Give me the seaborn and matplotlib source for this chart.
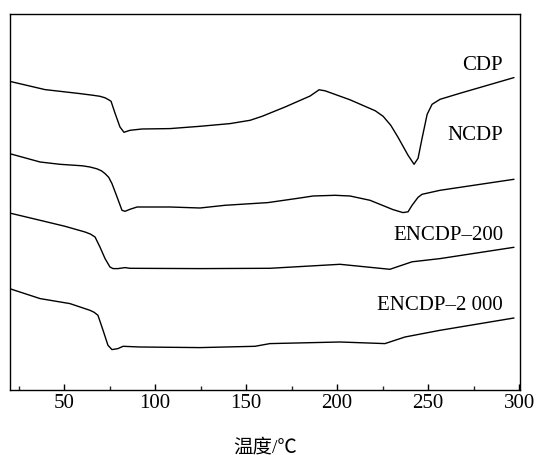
import matplotlib
matplotlib.use("Agg")
import matplotlib.pyplot as plt
from matplotlib.ticker import MultipleLocator
import seaborn as sns
import pandas as pd

# ---- data (temperature in °C, heat flow in arbitrary units) ----
cdp_t = [20, 39.5, 58.7, 66.0, 69.7, 72.5, 74.5, 75.8, 78.0, 80.7, 82.9, 86.2, 92.8, 108.2, 124.7,
         141.2, 152.2, 158.8, 171.4, 185.2, 190.1, 193.4, 207.1, 221.0, 225.3, 229.5, 233.5, 239.0,
         242.3, 244.5, 246.7, 249.5, 252.2, 256.6, 267.5, 297.2]
cdp_hf = [30.9, 30.07, 29.67, 29.5, 29.4, 29.25, 29.05, 28.9, 27.7, 26.33, 25.8, 26.0, 26.13, 26.17, 26.4,
          26.67, 27.0, 27.4, 28.33, 29.43, 30.05, 29.95, 29.05, 27.95, 27.4, 26.5, 25.3, 23.5,
          22.6, 23.2, 25.2, 27.6, 28.6, 29.1, 29.7, 31.27]

ncdp_t = [20, 36.8, 47.7, 60.0, 64.2, 68.0, 70.5, 72.5, 74.5, 76.3, 79.1, 81.8, 83.5, 86.2, 90.1, 93.4, 108.2,
          124.7, 138.4, 162.0, 179.6, 186.8, 198.9, 207.1, 218.1, 230.7, 236.2, 239.0,
          241.2, 244.5, 246.7, 256.6, 297.2]
ncdp_hf = [23.67, 22.83, 22.6, 22.45, 22.33, 22.15, 21.95, 21.67, 21.3, 20.67, 19.33, 18.0, 17.9, 18.1, 18.33, 18.33, 18.33,
           18.23, 18.5, 18.77, 19.23, 19.43, 19.5, 19.43, 19.0, 18.07, 17.77, 17.85,
           18.5, 19.3, 19.6, 20.0, 21.1]

e200_t = [20, 36.8, 50.5, 61.5, 64.5, 67.0, 69.7, 72.5, 75.2, 76.9, 79.6, 83.5, 86.2, 124.7,
          163.1, 201.6, 229.0, 241.2, 256.6, 297.2]
e200_hf = [17.73, 17.0, 16.4, 15.83, 15.62, 15.33, 14.33, 13.17, 12.33, 12.17, 12.17, 12.27, 12.2, 12.17,
           12.2, 12.6, 12.1, 12.85, 13.17, 14.3]

e2000_t = [20, 36.8, 53.2, 64.2, 66.5, 68.6, 71.4, 74.1, 76.3, 79.6, 82.4, 91.7, 124.7, 154.9,
           163.1, 201.6, 226.3, 237.3, 256.6, 297.2]
e2000_hf = [10.17, 9.17, 8.67, 8.0, 7.8, 7.5, 6.0, 4.5, 4.07, 4.17, 4.4, 4.33, 4.27, 4.4,
            4.67, 4.83, 4.67, 5.33, 6.0, 7.23]

samples = ["CDP", "NCDP", "ENCDP–200", "ENCDP–2 000"]
label_hf = [32.5, 25.5, 15.5, 8.5]
label_t = 291.3
x_ticks = [50, 100, 150, 200, 250, 300]

# ---- build long table ----
frames = []
for name, t, hf in zip(samples, [cdp_t, ncdp_t, e200_t, e2000_t],
                       [cdp_hf, ncdp_hf, e200_hf, e2000_hf]):
    frames.append(pd.DataFrame({"T": t, "hf": hf, "sample": name}))
df = pd.concat(frames, ignore_index=True)

sns.set_theme(style="white")
plt.rcParams["font.family"] = ["Liberation Serif", "Noto Sans CJK SC", "DejaVu Sans"]

fig = plt.figure(figsize=(5.37, 4.55), dpi=100)
ax = fig.add_axes([0.0177, 0.1422, 0.9506, 0.8277])

sns.lineplot(data=df, x="T", y="hf", hue="sample", palette=["black"] * 4,
             sort=False, estimator=None, legend=False, linewidth=1.0, ax=ax)

for name, y in zip(samples, label_hf):
    ax.text(label_t, y, name, ha="right", va="center", fontsize=15,
            family=["Liberation Serif", "Noto Sans CJK SC"], color="black")

ax.set_xlim(20, 300.5)
ax.set_ylim(0, 37.66)
ax.set_xticks(x_ticks)
ax.set_xticklabels([str(v) for v in x_ticks])
ax.xaxis.set_minor_locator(MultipleLocator(25))
ax.set_yticks([])
ax.set_ylabel("")
ax.tick_params(axis="x", which="major", direction="in", length=4.5, width=1.0,
               bottom=True, top=False, labelsize=15, pad=2.5, colors="black")
ax.tick_params(axis="x", which="minor", direction="in", length=3, width=1.0,
               bottom=True, top=False)
for lab in ax.get_xticklabels():
    lab.set_family(["Liberation Serif"])

ax.set_xlabel("温度/℃", fontsize=14, va="center",
              family=["Liberation Serif", "Noto Sans CJK SC"], color="black")
ax.xaxis.set_label_coords(0.5, -0.152)

for sp in ax.spines.values():
    sp.set_color("black")
    sp.set_linewidth(1.0)
    sp.set_visible(True)

fig.savefig("out.png", dpi=100)
